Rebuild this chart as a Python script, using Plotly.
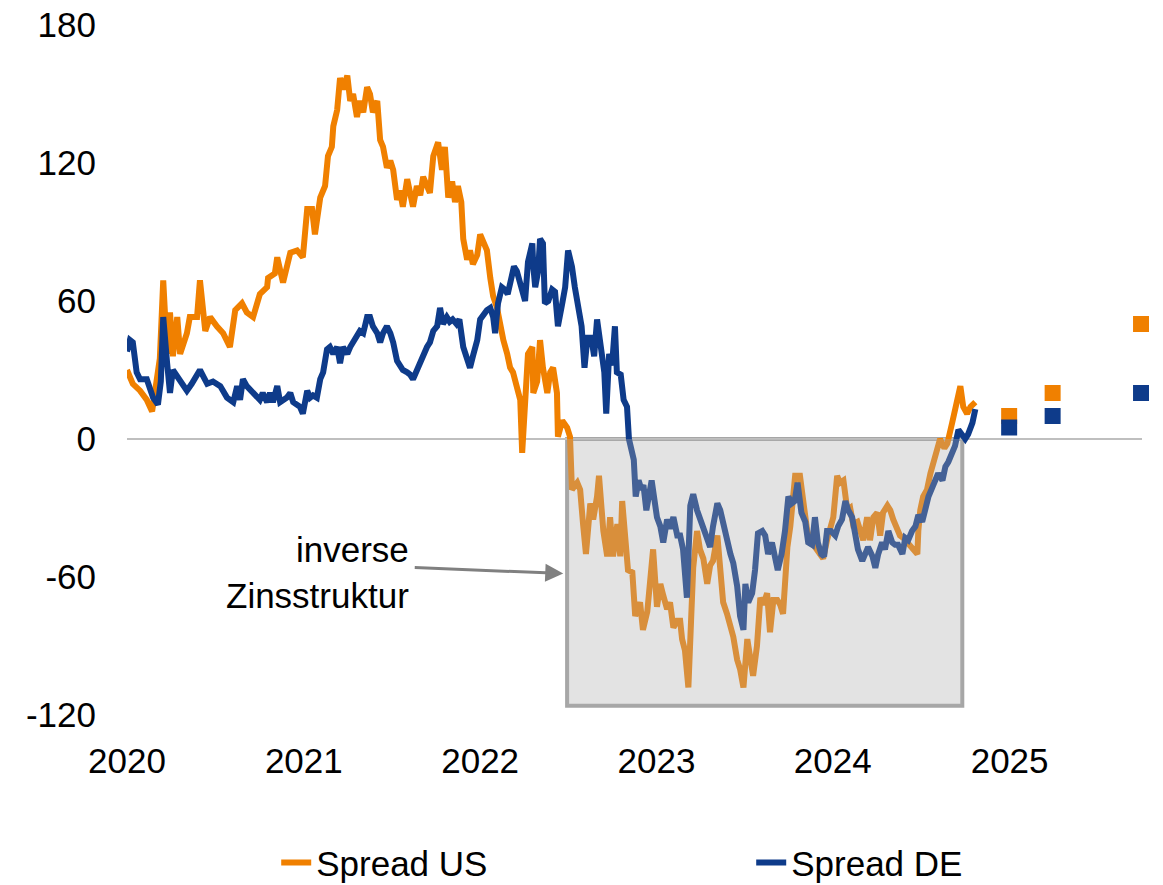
import plotly.graph_objects as go

# ---------------- data ----------------
us_dates = [
    "2020-01-01","2020-01-13","2020-01-28","2020-02-11","2020-02-22","2020-02-28","2020-03-09","2020-03-16",
    "2020-03-24","2020-03-30","2020-04-05","2020-04-14","2020-04-20","2020-05-04","2020-05-10","2020-05-25",
    "2020-05-31","2020-06-11","2020-06-21","2020-07-05","2020-07-18","2020-08-01","2020-08-12","2020-08-26",
    "2020-09-05","2020-09-18","2020-10-02","2020-10-17","2020-10-19","2020-11-02","2020-11-07","2020-11-19",
    "2020-11-27","2020-12-04","2020-12-18","2020-12-30","2021-01-08","2021-01-18","2021-01-24","2021-01-30",
    "2021-02-04","2021-02-14","2021-02-20","2021-02-28","2021-03-03","2021-03-11","2021-03-17","2021-03-23",
    "2021-04-01","2021-04-07","2021-04-13","2021-04-21","2021-04-27","2021-05-04","2021-05-12","2021-05-18",
    "2021-05-24","2021-06-02","2021-06-08","2021-06-14","2021-06-22","2021-06-29","2021-07-05","2021-07-13",
    "2021-07-19","2021-07-25","2021-08-03","2021-08-15","2021-08-23","2021-08-30","2021-09-05","2021-09-13",
    "2021-09-19","2021-09-26","2021-10-06","2021-10-14","2021-10-20","2021-10-27","2021-11-04","2021-11-10",
    "2021-11-16","2021-11-23","2021-11-27","2021-12-05","2021-12-11","2021-12-17","2021-12-26","2022-01-01",
    "2022-01-07","2022-01-15","2022-01-22","2022-01-28","2022-02-05","2022-02-11","2022-02-18","2022-02-26",
    "2022-03-04","2022-03-10","2022-03-19","2022-03-25","2022-03-29","2022-03-31","2022-04-04","2022-04-10",
    "2022-04-19","2022-04-21","2022-04-29","2022-05-05","2022-05-11","2022-05-20","2022-05-26","2022-06-01",
    "2022-06-09","2022-06-11","2022-06-20","2022-06-30","2022-07-06","2022-07-10","2022-07-21","2022-07-27",
    "2022-08-02","2022-08-08","2022-08-17","2022-08-23","2022-08-31","2022-09-04","2022-09-13","2022-09-21",
    "2022-09-27","2022-10-03","2022-10-12","2022-10-18","2022-10-22","2022-10-28","2022-11-03","2022-11-12",
    "2022-11-18","2022-11-28","2022-12-04","2022-12-13","2022-12-19","2022-12-25","2023-01-02","2023-01-09",
    "2023-01-15","2023-01-23","2023-01-29","2023-02-05","2023-02-13","2023-02-19","2023-02-23","2023-03-01",
    "2023-03-08","2023-03-12","2023-03-18","2023-03-26","2023-04-01","2023-04-08","2023-04-16","2023-04-22",
    "2023-04-28","2023-05-07","2023-05-13","2023-05-19","2023-05-27","2023-06-03","2023-06-09","2023-06-17",
    "2023-06-23","2023-06-30","2023-07-08","2023-07-14","2023-07-20","2023-07-28","2023-08-04","2023-08-10",
    "2023-08-18","2023-08-24","2023-08-31","2023-09-08","2023-09-14","2023-09-20","2023-09-24","2023-09-29",
    "2023-10-05","2023-10-11","2023-10-15","2023-10-25","2023-11-01","2023-11-09","2023-11-15","2023-11-21",
    "2023-11-30","2023-12-06","2023-12-12","2023-12-20","2023-12-27","2024-01-02","2024-01-10","2024-01-16",
    "2024-01-23","2024-01-31","2024-02-06","2024-02-12","2024-02-21","2024-02-27","2024-03-04","2024-03-12",
    "2024-03-18","2024-03-25","2024-04-02","2024-04-08","2024-04-14","2024-04-23","2024-04-29","2024-05-05",
    "2024-05-13","2024-05-19","2024-05-26","2024-06-03","2024-06-09","2024-06-15","2024-06-24","2024-06-26",
    "2024-06-30","2024-07-06","2024-07-14","2024-07-21","2024-07-27","2024-08-04","2024-08-10","2024-08-19",
    "2024-08-25","2024-09-04","2024-09-15","2024-09-21","2024-09-27","2024-10-05","2024-10-12","2024-10-22",
]
us_values = [
    30, 24, 21, 17, 12, 20, 35, 69,
    37, 55, 36, 53, 37, 46, 53, 53,
    69, 47, 53, 49, 46, 40, 56, 59,
    55, 53, 63, 66, 70, 72, 79, 68,
    75, 81, 82, 79, 100, 100, 89, 98,
    105, 110, 123, 127, 136, 143, 157, 152,
    158, 147, 150, 140, 147, 142, 153, 150,
    142, 147, 130, 127, 118, 121, 117, 104,
    108, 101, 113, 101, 110, 106, 114, 110,
    107, 123, 129, 117, 127, 105, 112, 103,
    110, 103, 87, 78, 82, 76, 80, 89,
    86, 82, 70, 62, 57, 50, 43, 37,
    31, 29, 21, 17, -6, 3, 20, 37,
    40, 20, 25, 43, 31, 20, 29, 31,
    20, 1, 8, 5, 1, -22, -19, -22,
    -37, -50, -28, -35, -25, -16, -40, -51,
    -34, -51, -37, -51, -27, -42, -57, -58,
    -77, -71, -83, -75, -57, -48, -73, -63,
    -68, -74, -71, -82, -79, -79, -87, -92,
    -108, -83, -56, -40, -48, -52, -63, -55,
    -53, -42, -57, -71, -76, -82, -86, -96,
    -100, -108, -87, -95, -103, -90, -69, -72,
    -67, -84, -70, -70, -72, -76, -58, -47,
    -38, -25, -16, -16, -28, -40, -44, -46,
    -48, -51, -52, -44, -37, -34, -16, -19,
    -18, -31, -30, -37, -36, -40, -44, -34,
    -44, -34, -32, -42, -32, -29, -31, -35,
    -39, -42, -43, -45, -47, -48, -50, -40,
    -31, -25, -22, -15, -11, -5, 0, -4,
    -2, 7, 16, 23, 14, 11, 14, 16,
]

de_dates = [
    "2020-01-01","2020-01-07","2020-01-13","2020-01-21","2020-01-28","2020-02-11","2020-02-24","2020-03-05",
    "2020-03-11","2020-03-16","2020-03-24","2020-03-30","2020-04-05","2020-04-20","2020-05-04","2020-05-14",
    "2020-05-31","2020-06-15","2020-06-27","2020-07-12","2020-07-26","2020-08-08","2020-08-16","2020-08-22",
    "2020-08-28","2020-09-05","2020-09-18","2020-10-02","2020-10-08","2020-10-17","2020-10-23","2020-10-29",
    "2020-11-07","2020-11-13","2020-11-27","2020-12-04","2020-12-10","2020-12-24","2020-12-30","2021-01-08",
    "2021-01-14","2021-01-20","2021-01-28","2021-02-04","2021-02-10","2021-02-18","2021-02-24","2021-03-03",
    "2021-03-11","2021-03-17","2021-03-23","2021-04-01","2021-04-07","2021-04-13","2021-04-21","2021-04-27",
    "2021-05-04","2021-05-12","2021-05-18","2021-05-24","2021-06-02","2021-06-08","2021-06-14","2021-06-22",
    "2021-06-29","2021-07-05","2021-07-13","2021-07-19","2021-07-25","2021-08-03","2021-08-09","2021-08-15",
    "2021-08-23","2021-08-30","2021-09-05","2021-09-13","2021-09-19","2021-09-26","2021-10-04","2021-10-10",
    "2021-10-16","2021-10-24","2021-10-30","2021-11-05","2021-11-13","2021-11-19","2021-11-27","2021-12-05",
    "2021-12-11","2021-12-17","2021-12-26","2022-01-01","2022-01-07","2022-01-15","2022-01-22","2022-01-28",
    "2022-02-01","2022-02-07","2022-02-15","2022-02-21","2022-02-27","2022-03-06","2022-03-12","2022-03-18",
    "2022-03-29","2022-04-04","2022-04-10","2022-04-19","2022-04-21","2022-04-25","2022-05-01","2022-05-05",
    "2022-05-11","2022-05-15","2022-05-22","2022-05-30","2022-06-05","2022-06-11","2022-06-20","2022-06-26",
    "2022-07-02","2022-07-10","2022-07-16","2022-07-22","2022-07-30","2022-08-05","2022-08-11","2022-08-19",
    "2022-08-25","2022-08-31","2022-09-09","2022-09-15","2022-09-19","2022-09-25","2022-10-01","2022-10-07",
    "2022-10-11","2022-10-19","2022-10-25","2022-11-01","2022-11-05","2022-11-09","2022-11-15","2022-11-19",
    "2022-11-25","2022-12-01","2022-12-05","2022-12-11","2022-12-22","2023-01-02","2023-01-09","2023-01-15",
    "2023-01-23","2023-01-29","2023-02-05","2023-02-13","2023-02-19","2023-02-25","2023-03-05","2023-03-12",
    "2023-03-18","2023-03-26","2023-04-01","2023-04-08","2023-04-16","2023-04-22","2023-04-28","2023-05-07",
    "2023-05-13","2023-05-19","2023-05-27","2023-06-03","2023-06-09","2023-06-17","2023-06-23","2023-06-30",
    "2023-07-04","2023-07-10","2023-07-18","2023-07-24","2023-07-30","2023-08-08","2023-08-14","2023-08-20",
    "2023-08-28","2023-09-03","2023-09-09","2023-09-17","2023-09-24","2023-10-01","2023-10-08","2023-10-14",
    "2023-10-20","2023-10-28","2023-11-05","2023-11-11","2023-11-19","2023-11-25","2023-12-01","2023-12-08",
    "2023-12-14","2023-12-20","2023-12-28","2024-01-06","2024-01-12","2024-01-20","2024-01-27","2024-02-02",
    "2024-02-10","2024-02-16","2024-02-22","2024-03-02","2024-03-08","2024-03-14","2024-03-23","2024-03-29",
    "2024-04-04","2024-04-12","2024-04-18","2024-04-25","2024-05-03","2024-05-09","2024-05-15","2024-05-24",
    "2024-05-30","2024-06-05","2024-06-13","2024-06-20","2024-06-26","2024-07-04","2024-07-10","2024-07-17",
    "2024-07-25","2024-07-31","2024-08-06","2024-08-15","2024-08-21","2024-08-27","2024-09-04","2024-09-10",
    "2024-09-17","2024-09-25","2024-10-01","2024-10-07","2024-10-16","2024-10-22",
]
de_values = [
    38, 43, 42, 29, 26, 26, 18, 15,
    25, 53, 33, 20, 30, 25, 21, 24,
    30, 24, 25, 23, 18, 16, 23, 17,
    26, 23, 20, 17, 20, 16, 20, 16,
    23, 16, 18, 20, 16, 14, 11, 21,
    18, 19, 18, 26, 29, 39, 40, 37,
    40, 33, 40, 37, 40, 42, 44, 47,
    46, 53, 53, 49, 46, 42, 46, 49,
    46, 42, 34, 32, 30, 29, 28, 26,
    30, 34, 36, 40, 42, 47, 49, 57,
    50, 53, 51, 52, 50, 52, 40, 34,
    31, 36, 43, 52, 54, 56, 57, 53,
    46, 59, 66, 65, 63, 70, 75, 73,
    65, 60, 77, 85, 75, 66, 73, 87,
    85, 59, 60, 65, 64, 49, 59, 66,
    82, 75, 66, 58, 49, 31, 44, 44,
    36, 52, 40, 29, 11, 37, 32, 49,
    29, 28, 17, 14, 0, -5, -9, -25,
    -18, -22, -20, -31, -18, -34, -38, -45,
    -35, -39, -34, -42, -42, -48, -69, -29,
    -24, -31, -35, -38, -44, -47, -38, -28,
    -31, -37, -44, -50, -54, -64, -77, -83,
    -63, -71, -67, -57, -41, -40, -42, -50,
    -45, -50, -57, -50, -40, -25, -28, -27,
    -19, -32, -36, -45, -46, -34, -45, -50,
    -51, -40, -40, -42, -38, -35, -27, -31,
    -34, -41, -48, -53, -50, -47, -51, -56,
    -50, -45, -48, -40, -45, -46, -46, -50,
    -43, -44, -40, -38, -33, -36, -31, -25,
    -21, -18, -15, -18, -12, -10, -6, -3,
    4, 2, 0, 2, 7, 13,
]

forecast_dates = ["2024-12-31", "2025-03-31", "2025-09-30"]
us_forecast = [10, 20, 50]
de_forecast = [5, 10, 20]

year_ticks = ["2020-01-01", "2021-01-01", "2022-01-01", "2023-01-01", "2024-01-01", "2025-01-01"]
year_labels = ["2020", "2021", "2022", "2023", "2024", "2025"]
y_ticks = [-120, -60, 0, 60, 120, 180]
y_labels = ["-120", "-60", "0", "60", "120", "180"]

inverse_box = {"start": "2022-06-30", "end": "2024-09-25", "low": -116, "high": 0}
annotation_text = "inverse<br>Zinsstruktur"

# ---------------- style ----------------
ORANGE = "#F08000"
BLUE = "#0E3B8A"
FONT = "Liberation Sans, Arial, sans-serif"
FS = 35

fig = go.Figure()
fig.add_trace(go.Scatter(x=us_dates, y=us_values, mode="lines", name="Spread US",
                         line=dict(color=ORANGE, width=6)))
fig.add_trace(go.Scatter(x=de_dates, y=de_values, mode="lines", name="Spread DE",
                         line=dict(color=BLUE, width=6)))
fig.add_trace(go.Scatter(x=forecast_dates, y=us_forecast, mode="markers", showlegend=False,
                         marker=dict(symbol="square", size=16, color=ORANGE), cliponaxis=False))
fig.add_trace(go.Scatter(x=forecast_dates, y=de_forecast, mode="markers", showlegend=False,
                         marker=dict(symbol="square", size=16, color=BLUE), cliponaxis=False))

# border of the shaded box (below lines) and semi-transparent fill (above lines)
fig.add_shape(type="rect", xref="x", yref="y",
              x0=inverse_box["start"], x1=inverse_box["end"],
              y0=inverse_box["low"], y1=inverse_box["high"],
              line=dict(color="#A6A6A6", width=4), fillcolor="rgba(0,0,0,0)", layer="below")
fig.add_shape(type="rect", xref="x", yref="y",
              x0=inverse_box["start"], x1=inverse_box["end"],
              y0=inverse_box["low"], y1=inverse_box["high"],
              line=dict(width=0), fillcolor="rgba(172,172,172,0.34)", layer="above")

# arrow
fig.add_annotation(x="2022-06-22", y=-58.5, xref="x", yref="y", text="",
                   showarrow=True, ax=-150, ay=-6, arrowhead=2, arrowsize=1.2,
                   arrowwidth=3, arrowcolor="#808080", standoff=0)
# label
fig.add_annotation(x="2021-08-11", y=-58, xref="x", yref="y", text=annotation_text,
                   showarrow=False, xanchor="right", yanchor="middle", align="right",
                   font=dict(family=FONT, size=FS, color="#000000"))

fig.update_layout(
    width=1163, height=885,
    margin=dict(l=127, r=21, t=25, b=170, autoexpand=False),
    paper_bgcolor="white", plot_bgcolor="white",
    font=dict(family=FONT, size=FS, color="#000000"),
    showlegend=True,
    legend=dict(orientation="h", x=0.147, xanchor="left", y=-0.214, yanchor="middle",
                entrywidth=430, entrywidthmode="pixels", itemwidth=30,
                font=dict(family=FONT, size=FS, color="#000000"), bgcolor="rgba(0,0,0,0)"),
    xaxis=dict(range=["2020-01-01", "2025-10-02"], tickvals=year_ticks, ticktext=year_labels,
               showgrid=False, zeroline=False, showline=False, ticks="", automargin=False,
               ticklabelstandoff=22, tickfont=dict(family=FONT, size=FS)),
    yaxis=dict(range=[-120, 180], tickvals=y_ticks, ticktext=y_labels, showgrid=False,
               zeroline=True, zerolinecolor="#BFBFBF", zerolinewidth=2, automargin=False,
               showline=False, ticks="", ticklabelstandoff=30,
               tickfont=dict(family=FONT, size=FS)),
)

fig.write_html("out.html", config={"displayModeBar": False},
               post_script="document.body.style.margin='0';")
